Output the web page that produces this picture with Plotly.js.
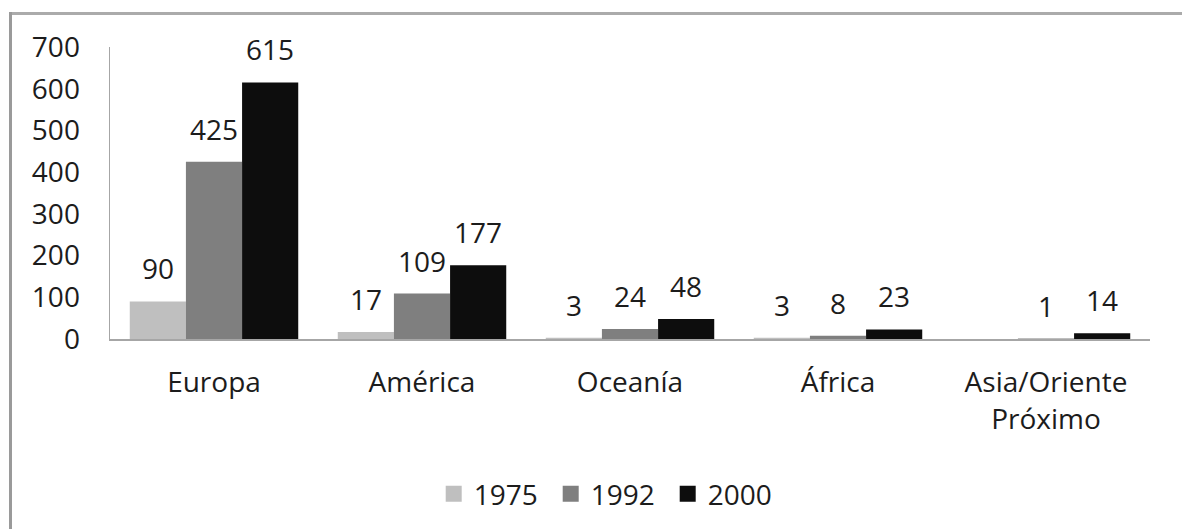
<!DOCTYPE html>
<html>
<head>
<meta charset="utf-8">
<script src="https://cdn.plot.ly/plotly-3.0.1.min.js"></script>
<style>html,body{margin:0;padding:0;background:#fff;}#chart{width:1182px;height:529px;}</style>
</head>
<body>
<div id="chart"></div>
<script>
const categories = ["Europa", "América", "Oceanía", "África", "Asia/Oriente<br>Próximo"];
const seriesNames = ["1975", "1992", "2000"];
const values1975 = [90, 17, 3, 3, null];
const values1992 = [425, 109, 24, 8, 1];
const values2000 = [615, 177, 48, 23, 14];
const seriesColors = ["#bfbfbf", "#7f7f7f", "#0d0d0d"];

const allValues = [values1975, values1992, values2000];
const FONT = "Open Sans, Noto Sans, sans-serif";
const FS = 28;
const TXT = "#1c1c1c";

const W = 1182, H = 529;
const M = {l: 110, r: 32, t: 47, b: 189};
const plotW = W - M.l - M.r, plotH = H - M.t - M.b;
const bargap = 0.19;
const barPx = plotW / categories.length * (1 - bargap) / seriesNames.length;

const traces = seriesNames.map((name, i) => ({
  type: "bar",
  name: name,
  x: categories,
  y: allValues[i],
  marker: {color: seriesColors[i], line: {width: 0}},
  showlegend: false,
  hoverinfo: "skip"
}));

// legend entries (square swatches like the reference)
seriesNames.forEach((name, i) => {
  traces.push({
    type: "scatter", mode: "markers", name: name,
    x: [null], y: [null],
    marker: {symbol: "square", size: 17, color: seriesColors[i]},
    showlegend: true, hoverinfo: "skip"
  });
});

const annotations = [];
allValues.forEach((vals, i) => {
  vals.forEach((v, j) => {
    if (v === null || v === undefined) return;
    annotations.push({
      x: categories[j], y: v, xref: "x", yref: "y",
      text: String(v), showarrow: false,
      xanchor: "center", yanchor: "bottom",
      xshift: (i - 1) * barPx, yshift: 12,
      font: {family: FONT, size: FS, color: TXT}
    });
  });
});

const shapes = [
  {type: "line", xref: "paper", yref: "paper",
   x0: (10.5 - M.l) / plotW, x1: (W + 5 - M.l) / plotW,
   y0: (H - M.b - 13.5) / plotH, y1: (H - M.b - 13.5) / plotH,
   line: {color: "#ababab", width: 3}},
  {type: "line", xref: "paper", yref: "paper",
   x0: (10.5 - M.l) / plotW, x1: (10.5 - M.l) / plotW,
   y0: (H - M.b - 12) / plotH, y1: (H - M.b - H - 5) / plotH,
   line: {color: "#9a9a9a", width: 3}}
];

const layout = {
  width: W, height: H,
  margin: M,
  paper_bgcolor: "#ffffff", plot_bgcolor: "#ffffff",
  barmode: "group", bargap: bargap, bargroupgap: 0,
  font: {family: FONT, size: FS, color: TXT},
  showlegend: true,
  legend: {
    orientation: "h", x: 0.48, xanchor: "center",
    y: (H - M.b - 494) / plotH, yanchor: "middle",
    font: {family: FONT, size: FS, color: TXT},
    traceorder: "normal", itemclick: false,
    entrywidth: 72, entrywidthmode: "pixels"
  },
  xaxis: {
    showline: true, linecolor: "#a6a6a6", linewidth: 1.5,
    ticks: "", showgrid: false, zeroline: false,
    tickfont: {family: FONT, size: FS, color: TXT},
    ticklabelstandoff: 18, fixedrange: true
  },
  yaxis: {
    range: [0, 700], dtick: 100, tick0: 0,
    showline: true, linecolor: "#a6a6a6", linewidth: 1.5,
    ticks: "", showgrid: false, zeroline: false,
    tickfont: {family: FONT, size: FS, color: TXT},
    ticklabelstandoff: 23, fixedrange: true
  },
  annotations: annotations,
  shapes: shapes
};

Plotly.newPlot("chart", traces, layout, {displayModeBar: false, staticPlot: true});
</script>
</body>
</html>
